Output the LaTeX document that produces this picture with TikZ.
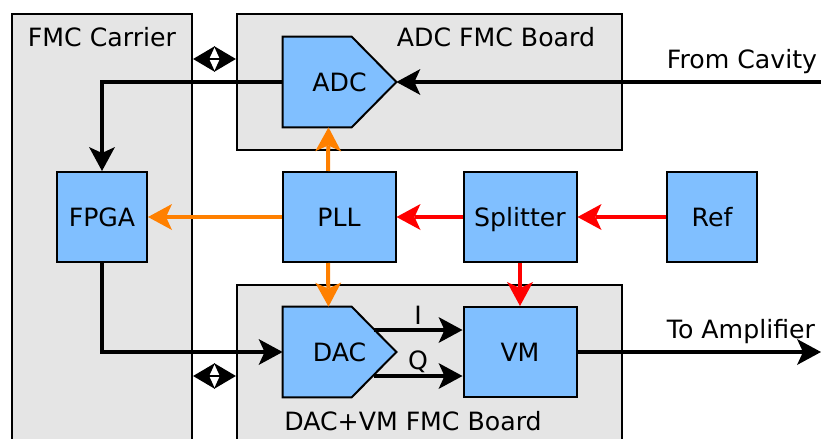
\documentclass[tikz,border=0pt]{standalone}
\usepackage{fontspec}
\setmainfont{DejaVu Sans}
\usetikzlibrary{arrows.meta, calc}

\definecolor{panelgray}{HTML}{E5E5E5}
\definecolor{blockblue}{HTML}{80BFFF}
\definecolor{clkorange}{HTML}{FF8000}

\tikzset{
	panel/.style={draw, fill=panelgray, line width=1.1pt, inner sep=0pt},
	block/.style={draw, fill=blockblue, line width=1pt, inner sep=0pt, minimum width=56.5pt, minimum height=45pt, text height=9.2pt, text depth=0pt},
	chip/.style={inner sep=0pt, minimum width=56.5pt, minimum height=45pt},
	chipline/.style={draw, fill=blockblue, line width=1pt},
	sig/.style={line width=2.4pt, -{Stealth[length=12pt, width=13pt, inset=3pt, line width=0pt]}},
	clkline/.style={sig, clkorange, line width=2pt},
	rfline/.style={sig, red, line width=2pt},
	bus/.style={line width=1.2pt, {Stealth[length=11pt, width=13pt, inset=3pt, line width=0pt]}-{Stealth[length=11pt, width=13pt, inset=3pt, line width=0pt]}},
	lbl/.style={inner sep=0pt, text height=9.2pt, text depth=0pt}
}

\begin{document}
\begin{tikzpicture}[x=0.5pt, y=-0.5pt, font=\fontsize{12.6}{15}\selectfont]
	\useasboundingbox (0,0) rectangle (821,439);

	% boards
	\node[panel, minimum width=90pt, minimum height=223pt] (carrier) at (102,237) {};
	\node[panel, minimum width=192.5pt, minimum height=68pt] (adcboard) at (429.5,82) {};
	\node[panel, minimum width=192.5pt, minimum height=87.5pt] (dacboard) at (429.5,372.5) {};

	\node[lbl] (carriertxt) at (102,37) {FMC Carrier};
	\node[lbl] (adcboardtxt) at (496,37) {ADC FMC Board};
	\node[lbl] (dacboardtxt) at (413,421) {DAC+VM FMC Board};

	% connectors between the boards
	\coordinate (busA) at (214,59);
	\coordinate (busB) at (214,376);
	\draw[bus] (carrier.east |- busA) -- (adcboard.west |- busA);
	\draw[bus] (carrier.east |- busB) -- (dacboard.west |- busB);

	% blocks
	\node[block, minimum width=45pt] (fpga) at (102,217) {FPGA};
	\node[block] (pll) at (339,217) {PLL};
	\node[block] (splitter) at (520,217) {Splitter};
	\node[block, minimum width=45pt] (ref) at (712,217) {Ref};
	\node[block] (vm) at (520,352) {VM};

	% converters
	\node[chip] (adc) at (339.5,82) {};
	\draw[chipline] (adc.north west) -- ++(69,0) -- (adc.east) -- ($(adc.south west)+(69,0)$) -- (adc.south west) -- cycle;
	\node[lbl] (adctxt) at (adc) {ADC};
	\node[chip] (dac) at (339.5,352) {};
	\draw[chipline] (dac.north west) -- ++(69,0) -- (dac.east) -- ($(dac.south west)+(69,0)$) -- (dac.south west) -- cycle;
	\node[lbl] (dactxt) at (dac) {DAC};

	% signal path
	\coordinate (cavity) at (821,82);
	\coordinate (amp) at (821,352);
	\draw[sig] (cavity) -- (adc.east);
	\node[lbl] (cavitytxt) at (742,59) {From Cavity};
	\draw[sig] (adc.west) -| (fpga.north);
	\draw[sig] (fpga.south) |- (dac.west);
	\draw[sig] ($(dac.east)+(-22,-22)$) -- ($(vm.west)+(0,-22)$);
	\draw[sig] ($(dac.east)+(-22,24)$) -- ($(vm.west)+(0,24)$);
	\node[lbl] (itxt) at (418,315) {I};
	\node[lbl] (qtxt) at (418,360) {Q};
	\draw[sig] (vm.east) -- (amp);
	\node[lbl] (amptxt) at (741,329) {To Amplifier};

	% clocks
	\draw[clkline] (pll.west) -- (fpga.east);
	\draw[clkline] ($(pll.north)+(-11,0)$) -- ($(adc.south)+(-11,0)$);
	\draw[clkline] ($(pll.south)+(-11,0)$) -- ($(dac.north)+(-11,0)$);

	% reference
	\draw[rfline] (ref.west) -- (splitter.east);
	\draw[rfline] (splitter.west) -- (pll.east);
	\draw[rfline] (splitter.south) -- (vm.north);
\end{tikzpicture}
\end{document}
